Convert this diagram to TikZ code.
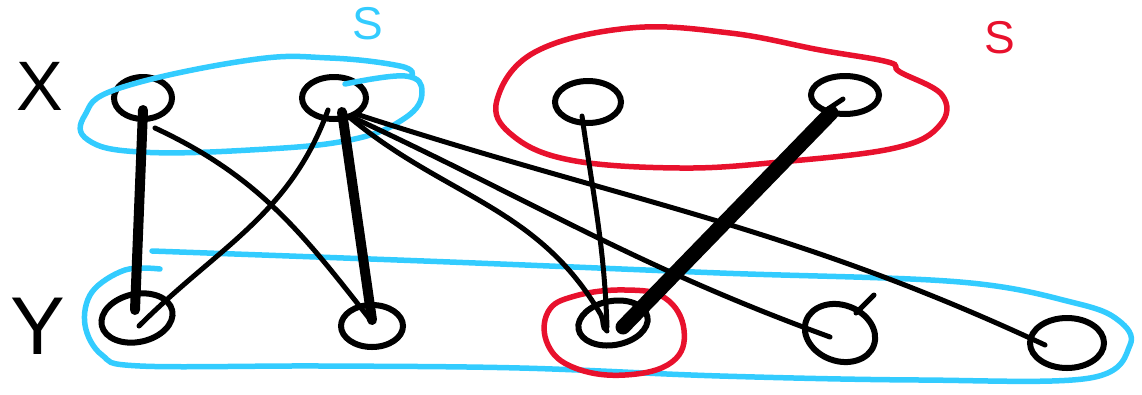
\documentclass[tikz,border=0pt]{standalone}
\usepackage{tikz}
\usepackage{xcolor}
\usepackage{fontspec}
\setmainfont{Liberation Sans}
\usetikzlibrary{positioning,shapes.geometric,calc}
\definecolor{ink}{HTML}{000000}
\definecolor{setblue}{HTML}{33CCFF}
\definecolor{setred}{HTML}{E8112D}
\tikzset{
  vertex/.style={ellipse,draw=ink,line width=6pt,
                 minimum width=58pt,minimum height=42pt,inner sep=0pt},
  edgethin/.style={draw=ink,line width=5pt,line cap=round},
  edgethick/.style={draw=ink,line width=10pt,line cap=round},
  edgeheavy/.style={draw=ink,line width=15pt,line cap=round},
  blueloop/.style={draw=setblue,line width=5.5pt,line cap=round},
  redloop/.style={draw=setred,line width=5.5pt,line cap=round},
  sidelabel/.style={font=\fontsize{70}{70}\selectfont,text=ink,inner sep=0pt},
  setlabel/.style={font=\fontsize{46}{46}\selectfont,inner sep=0pt}
}
\begin{document}
\begin{tikzpicture}[x=1pt,y=-1pt]
      \useasboundingbox (0,0) rectangle (1142,394);

      \node[sidelabel] (lblX) at (40,86) {X};
      \node[sidelabel,font=\fontsize{82}{82}\selectfont] (lblY) at (38,326) {Y};
      \node[setlabel,text=setblue] (lblSblue) at (368,24) {S};
      \node[setlabel,text=setred] (lblSred) at (1000,38) {S};

      \node[vertex] (x1) at (143,98) {};
      \node[vertex,minimum width=64pt] (x2) at (334,98) {};
      \node[vertex,minimum width=66pt] (x3) at (588,102) {};
      \node[vertex,minimum width=68pt,minimum height=38pt] (x4) at (845,95) {};
      \node[vertex,minimum width=72pt,minimum height=48pt,rotate=12] (y1) at (137,318) {};
      \node[vertex,minimum width=62pt] (y2) at (372,326) {};
      \node[vertex,minimum width=70pt,minimum height=44pt,rotate=10] (y3) at (613,323) {};
      \node[vertex,minimum width=72pt,minimum height=56pt,rotate=-20] (y4) at (840,333) {};
      \node[vertex,minimum width=74pt,minimum height=50pt] (y5) at (1067,343) {};

      % blue set around the first two X vertices
      \draw[blueloop] plot[smooth,tension=0.7] coordinates {(345,84) (405,76) (422,92) (405,118) (350,140)
        (250,150) (140,152) (88,140) (85,115) (120,88) (250,60) (330,58) (400,66) (412,75)};
      % red set around the last two X vertices
      \draw[redloop] plot[smooth cycle,tension=0.65] coordinates {(497,100) (535,52) (630,28) (730,33)
        (820,50) (888,62) (900,72) (942,95) (940,125) (895,148) (780,162) (680,168) (570,160) (512,135)};
      % blue set around all Y vertices
      \draw[blueloop] plot[smooth,tension=0.6] coordinates {(160,269) (125,270) (92,292) (85,325) (102,355)
        (140,366) (320,366) (520,368) (720,376) (920,380) (1090,378) (1130,345) (1118,320) (1075,303)
        (960,282) (720,273) (450,262) (152,251)};
      % red set around one Y vertex
      \draw[redloop] plot[smooth cycle,tension=0.7] coordinates {(548,312) (575,296) (625,290) (665,298)
        (684,330) (672,362) (625,375) (575,368) (548,345)};

      \draw[edgethick] ($(x1.center)+(0,12)$) -- ($(y1.center)+(-2,-8)$);
      \draw[edgethin] ($(x1.center)+(12,30)$) to[out=-25,in=128] ($(y2.center)+(0,-4)$);
      \draw[edgethin] ($(x2.center)+(-6,12)$) to[out=-110,in=45] ($(y1.center)+(2,8)$);
      \draw[edgethick] ($(x2.center)+(8,14)$) -- ($(y2.center)+(0,-6)$);
      \draw[edgethin] ($(x2.center)+(14,18)$) to[out=-40,in=120] ($(y3.center)+(-12,-8)$)
        to[out=-60,in=150] ($(y3.center)+(-6,8)$);
      \draw[edgethin] ($(x2.center)+(20,20)$) to[out=-25,in=160] ($(y4.center)+(-10,4)$);
      \draw[edgethin] ($(x2.center)+(22,16)$) to[out=-18,in=155] ($(y5.center)+(-22,2)$);
      \draw[edgethin] ($(x3.center)+(-6,14)$) to[out=-82,in=92] ($(y3.center)+(-6,4)$);
      \draw[edgeheavy] ($(x4.center)+(-14,18)$) -- ($(y3.center)+(10,4)$);
      \draw[edgethin] ($(x4.center)+(-20,16)$) -- ($(x4.center)+(-2,4)$);
      \draw[edgethin] ($(y4.center)+(16,-20)$) -- ($(y4.center)+(34,-38)$);
    \end{tikzpicture}
\end{document}
